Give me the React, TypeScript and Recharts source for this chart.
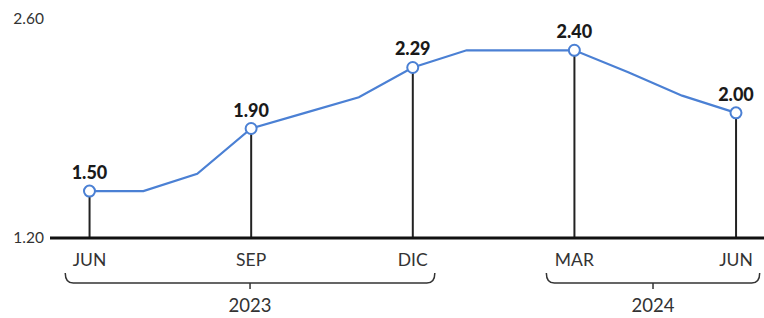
import React from 'react';
import { ComposedChart, Line, Bar, XAxis, YAxis, LabelList } from 'recharts';

const months = ['JUN', 'JUL', 'AGO', 'SEP', 'OCT', 'NOV', 'DIC', 'ENE', 'FEB', 'MAR', 'ABR', 'MAY', 'JUN'];
const rates = [1.5, 1.5, 1.61, 1.9, 2.0, 2.1, 2.29, 2.4, 2.4, 2.4, 2.26, 2.11, 2.0];
const labeledMonths = [0, 3, 6, 9, 12];
const yTicks = [1.2, 2.6];
const years = ['2023', '2024'];
const yearFrom = [-0.45, 8.48];
const yearTo = [6.41, 12.44];

const X_DOMAIN: [number, number] = [-0.733, 12.52];
const W = 764;
const H = 318;
const Y_AXIS_W = 50;
const PX_PER_UNIT = (W - Y_AXIS_W) / (X_DOMAIN[1] - X_DOMAIN[0]);
const BLUE = '#4b80d4';
const FONT = 'Lato, "Open Sans", sans-serif';

const data = months.map((m, i) => ({
  i,
  rate: rates[i],
  mark: labeledMonths.includes(i) ? rates[i] : null,
}));

const yearCenters = years.map((_, k) => (yearFrom[k] + yearTo[k]) / 2);

const YTick = ({ x, y, payload }: any) => (
  <text x={x} y={y} dy={5} textAnchor="end" fontSize={15.5} fill="#333" fontFamily={FONT}>
    {Number(payload.value).toFixed(2)}
  </text>
);

const MonthTick = ({ x, y, payload }: any) => (
  <text x={x} y={y + 28} textAnchor="middle" fontSize={17.5} fill="#333" fontFamily={FONT}>
    {months[payload.value]}
  </text>
);

const YearTick = ({ x, y, index }: any) => {
  const half = ((yearTo[index] - yearFrom[index]) / 2) * PX_PER_UNIT;
  const l = x - half;
  const r = x + half;
  const by = y + 13;
  const d = `M${l},${y + 3} Q${l},${by} ${l + 8},${by} L${r - 8},${by} Q${r},${by} ${r},${y + 3}`;
  return (
    <g>
      <path d={d} fill="none" stroke="#333" strokeWidth={1.5} />
      <line x1={x} x2={x} y1={by} y2={by + 6} stroke="#333" strokeWidth={1.5} />
      <text x={x} y={y + 42} textAnchor="middle" fontSize={18.5} fill="#333" fontFamily={FONT}>
        {years[index]}
      </text>
    </g>
  );
};

const ValueLabel = ({ x, y, value }: any) => {
  if (value == null) return null;
  return (
    <text x={x} y={y - 12} textAnchor="middle" fontSize={18} fontWeight={900} fill="#1a1a1a" fontFamily={FONT}>
      {Number(value).toFixed(2)}
    </text>
  );
};

export default function App() {
  return (
    <div style={{ width: W, height: H, background: '#fff' }}>
      <style>{`body{margin:0}`}</style>
      <ComposedChart width={W} height={H} data={data} margin={{ top: 19, right: 0, left: 0, bottom: 0 }}>
        <YAxis
          type="number"
          domain={[1.2, 2.6]}
          ticks={yTicks}
          width={Y_AXIS_W}
          axisLine={false}
          tickLine={false}
          tickSize={0}
          tickMargin={6}
          tick={<YTick />}
          allowDataOverflow
        />
        <XAxis
          xAxisId="m"
          type="number"
          dataKey="i"
          domain={X_DOMAIN}
          ticks={labeledMonths}
          allowDataOverflow
          height={32}
          axisLine={{ stroke: '#111', strokeWidth: 3 }}
          tickLine={false}
          tickSize={0}
          tickMargin={0}
          tick={<MonthTick />}
          interval={0}
        />
        <XAxis
          xAxisId="yr"
          type="number"
          dataKey="i"
          domain={X_DOMAIN}
          ticks={yearCenters}
          allowDataOverflow
          height={48}
          axisLine={false}
          tickLine={false}
          tickSize={0}
          tickMargin={0}
          tick={<YearTick />}
          interval={0}
        />
        <Bar xAxisId="m" dataKey="mark" barSize={2} fill="#222" isAnimationActive={false} />
        <Line
          xAxisId="m"
          type="linear"
          dataKey="rate"
          stroke={BLUE}
          strokeWidth={2.2}
          dot={false}
          isAnimationActive={false}
        />
        <Line
          xAxisId="m"
          type="linear"
          dataKey="mark"
          stroke="none"
          dot={{ r: 5.5, fill: '#fff', stroke: BLUE, strokeWidth: 2 }}
          isAnimationActive={false}
        >
          <LabelList dataKey="mark" content={<ValueLabel />} />
        </Line>
      </ComposedChart>
    </div>
  );
}
